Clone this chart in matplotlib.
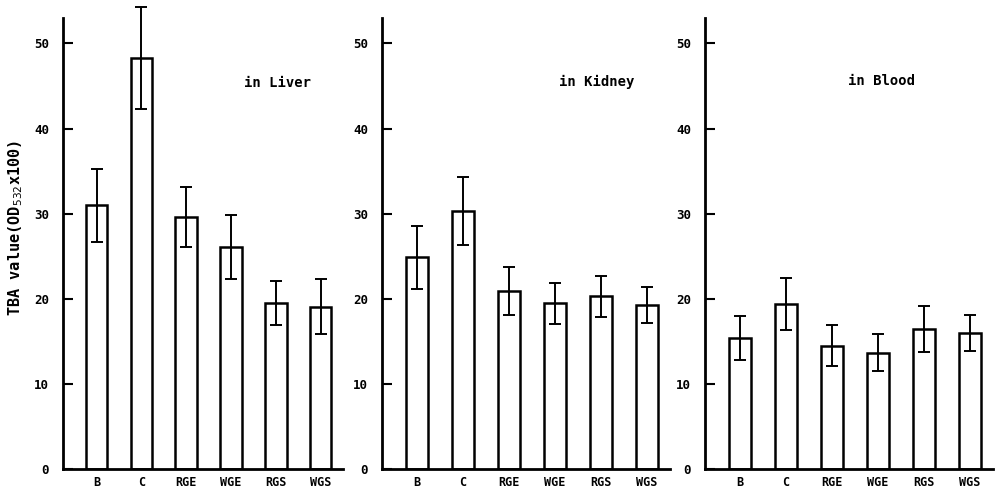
import matplotlib
matplotlib.use("Agg")
import matplotlib.pyplot as plt
import numpy as np

categories = ["B", "C", "RGE", "WGE", "RGS", "WGS"]
panel_titles = ["in Liver", "in Kidney", "in Blood"]

liver_mean = [31.0, 48.3, 29.6, 26.1, 19.5, 19.1]
liver_err = [4.3, 6.0, 3.5, 3.8, 2.6, 3.2]
kidney_mean = [24.9, 30.3, 20.9, 19.5, 20.3, 19.3]
kidney_err = [3.7, 4.0, 2.8, 2.4, 2.4, 2.1]
blood_mean = [15.4, 19.4, 14.5, 13.7, 16.5, 16.0]
blood_err = [2.6, 3.0, 2.4, 2.2, 2.7, 2.1]

y_ticks = [0, 10, 20, 30, 40, 50]
y_label = "TBA value(OD$_{532}$x100)"

means = [liver_mean, kidney_mean, blood_mean]
errs = [liver_err, kidney_err, blood_err]
title_pos = [(3.3, 45.3), (3.1, 45.5), (2.35, 45.6)]

font = "DejaVu Sans Mono"
fig = plt.figure(figsize=(10, 4.95), dpi=100)
lefts = [0.063, 0.382, 0.705]
widths = [0.280, 0.288, 0.288]
bottom = 0.052
height = 0.912

x = np.arange(len(categories))
for i in range(3):
    ax = fig.add_axes([lefts[i], bottom, widths[i], height])
    ax.bar(x, means[i], width=0.48, color="white", edgecolor="black", linewidth=1.8)
    eb = ax.errorbar(x, means[i], yerr=errs[i], fmt="none", ecolor="black",
                     elinewidth=1.4, capsize=4.5, capthick=1.4)
    for art in eb.lines[1] + eb.lines[2]:
        art.set_clip_on(False)
    ax.set_ylim(0, 53)
    ax.set_xlim(-0.75, 5.5)
    ax.spines["top"].set_visible(False)
    ax.spines["right"].set_visible(False)
    ax.spines["left"].set_linewidth(2.0)
    ax.spines["bottom"].set_linewidth(2.0)
    ax.set_yticks(y_ticks)
    ax.set_yticklabels([str(t) for t in y_ticks], fontfamily=font,
                       fontweight="bold", fontsize=9)
    ax.tick_params(axis="y", direction="in", length=7, width=1.5, pad=10)
    ax.set_xticks(x)
    ax.set_xticklabels(categories, fontfamily=font, fontweight="bold", fontsize=8.5)
    ax.tick_params(axis="x", length=0, pad=5)
    ax.text(title_pos[i][0], title_pos[i][1], panel_titles[i],
            fontfamily=font, fontweight="bold", fontsize=10, ha="left", va="center")

fig.text(0.016, 0.54, y_label, rotation=90, fontfamily=font, fontweight="bold",
         fontsize=11, ha="center", va="center")

fig.savefig("out.png", dpi=100)
